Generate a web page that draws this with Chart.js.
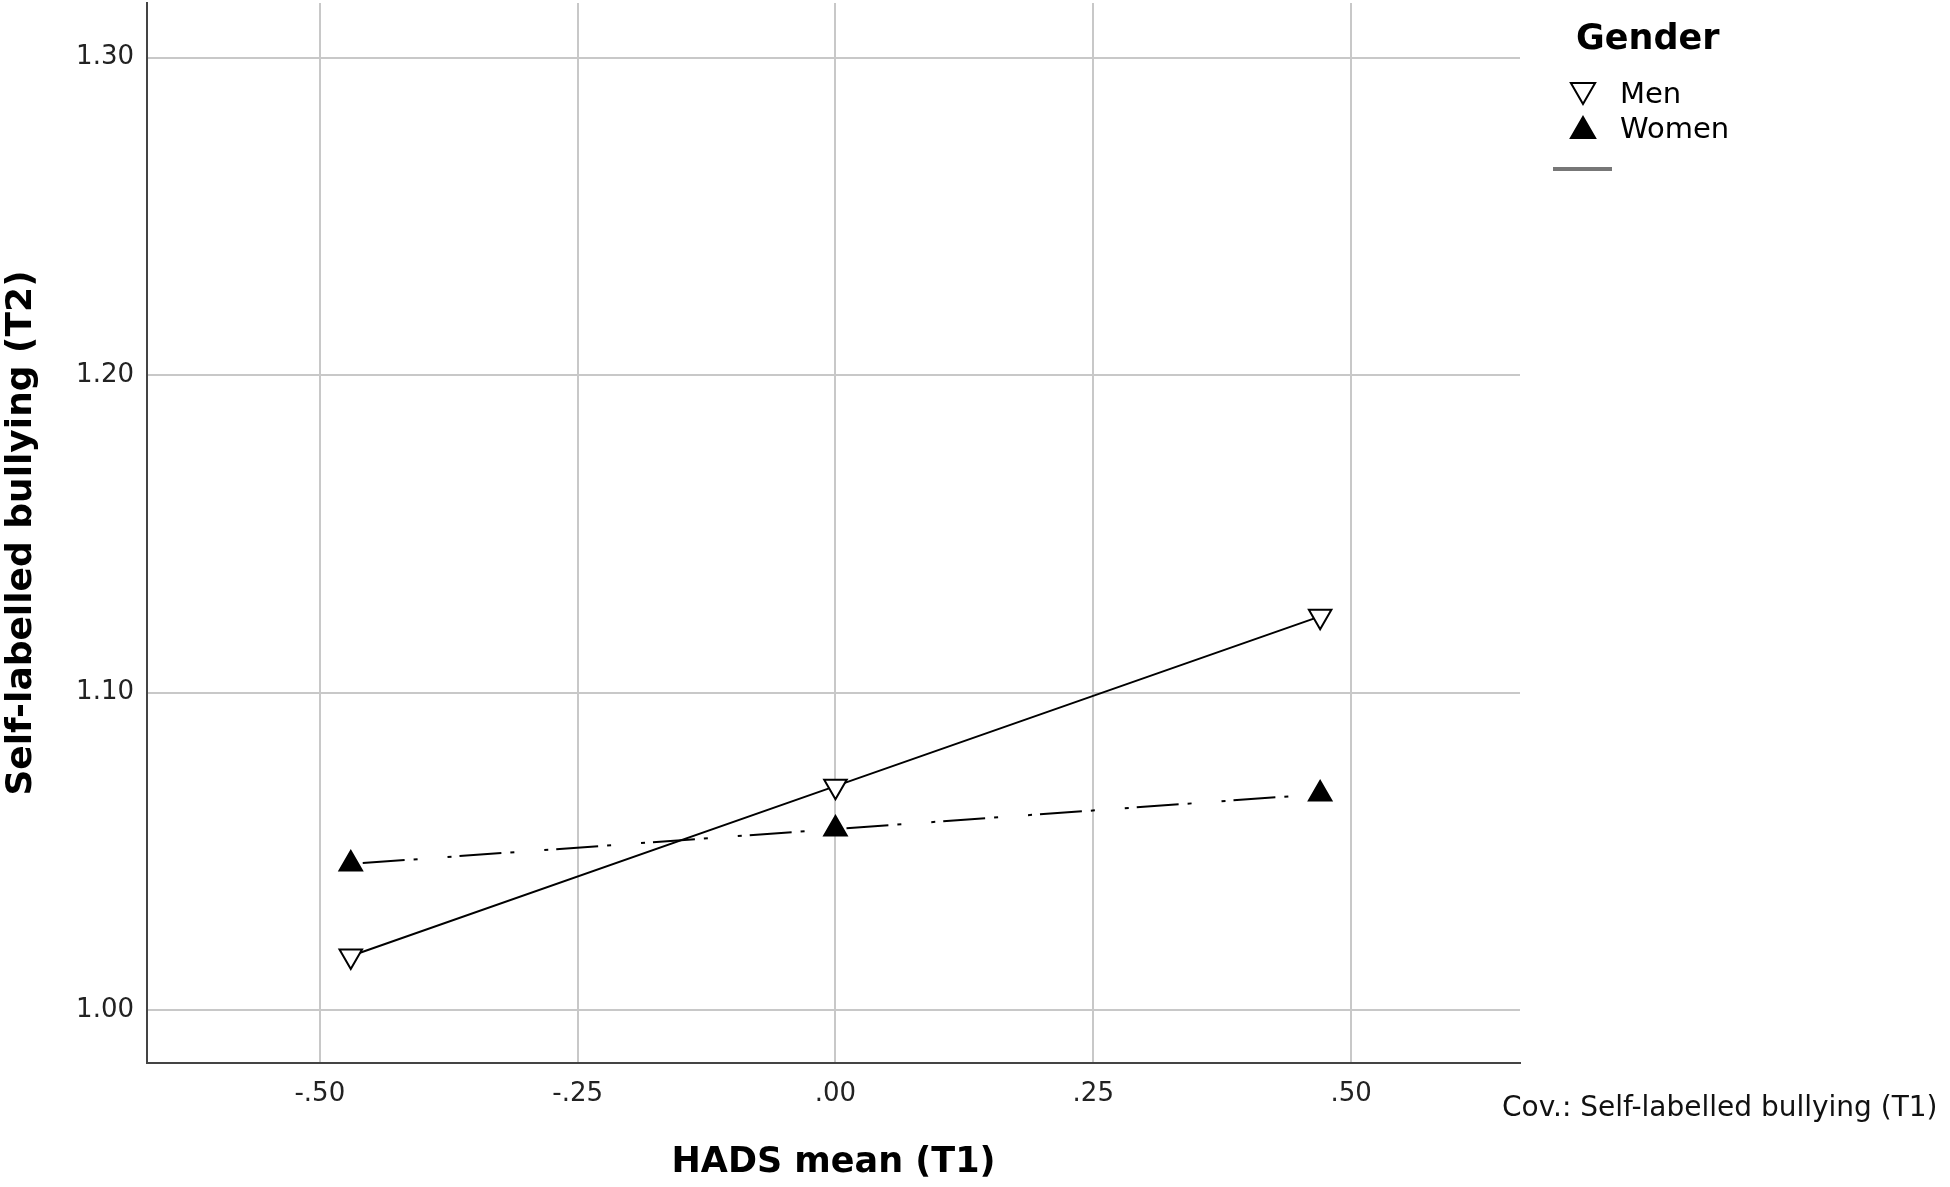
<!DOCTYPE html>
<html>
<head>
<meta charset="utf-8">
<title>Self-labelled bullying (T2) by HADS mean (T1)</title>
<script src="https://cdn.jsdelivr.net/npm/chart.js@4.4.1/dist/chart.umd.min.js"></script>
<style>
  html, body { margin: 0; padding: 0; background: #fff; }
  #chart { display: block; }
</style>
</head>
<body>
<canvas id="chart" width="1950" height="1187"></canvas>
<script>
// values
var hadsX = [-0.47, 0.00, 0.47];
var menValues = [1.017, 1.0705, 1.124];
var womenValues = [1.046, 1.057, 1.068];

var xTickValues = [-0.50, -0.25, 0.00, 0.25, 0.50];
var xTickLabels = ['-.50', '-.25', '.00', '.25', '.50'];
var yTickValues = [1.00, 1.10, 1.20, 1.30];
var yTickLabels = ['1.00', '1.10', '1.20', '1.30'];

var legendTitle = 'Gender';
var seriesNames = ['Men', 'Women'];
var covNote = 'Cov.: Self-labelled bullying (T1)';

var FONT = '"DejaVu Sans", sans-serif';

function toPoints(xs, ys) {
    return xs.map(function (x, i) { return { x: x, y: ys[i] }; });
}

// legend + covariate note, drawn by hand in the right margin
var sideNotes = {
    id: 'sideNotes',
    afterDraw: function (chart) {
        var ctx = chart.ctx;
        ctx.save();
        ctx.textBaseline = 'middle';
        ctx.textAlign = 'left';

        ctx.fillStyle = '#000';
        ctx.font = 'bold 35px ' + FONT;
        ctx.fillText(legendTitle, 1576, 40);

        var markerY = [90, 131];
        var textY = [95, 130];
        chart.data.datasets.forEach(function (ds, i) {
            ctx.fillStyle = ds.pointBackgroundColor;
            ctx.strokeStyle = ds.pointBorderColor;
            ctx.lineWidth = 2;
            ctx.setLineDash([]);
            Chart.helpers.drawPoint(ctx, {
                pointStyle: ds.pointStyle,
                rotation: ds.pointRotation,
                radius: 14,
                borderWidth: 2
            }, 1583, markerY[i]);
            ctx.fillStyle = '#000';
            ctx.font = '29px ' + FONT;
            ctx.fillText(seriesNames[i], 1620, textY[i]);
        });

        ctx.strokeStyle = '#777';
        ctx.lineWidth = 4;
        ctx.beginPath();
        ctx.moveTo(1553, 169);
        ctx.lineTo(1612, 169);
        ctx.stroke();

        ctx.font = '28px ' + FONT;
        ctx.fillStyle = '#111';
        ctx.fillText(covNote, 1502, 1109);
        ctx.restore();
    }
};

new Chart(document.getElementById('chart'), {
    type: 'scatter',
    data: {
        datasets: [{
            label: seriesNames[0],
            data: toPoints(hadsX, menValues),
            showLine: true,
            borderColor: '#000',
            borderWidth: 2,
            pointStyle: 'triangle',
            pointRotation: 180,
            pointRadius: 13,
            pointBorderWidth: 2,
            pointBackgroundColor: '#fff',
            pointBorderColor: '#000'
        }, {
            label: seriesNames[1],
            data: toPoints(hadsX, womenValues),
            showLine: true,
            borderColor: '#000',
            borderWidth: 2,
            borderDash: [4, 8, 42, 9, 4, 30],
            pointStyle: 'triangle',
            pointRotation: 0,
            pointRadius: 13,
            pointBorderWidth: 2,
            pointBackgroundColor: '#000',
            pointBorderColor: '#000'
        }]
    },
    options: {
        responsive: false,
        animation: false,
        devicePixelRatio: 1,
        layout: { autoPadding: false, padding: { top: 3, right: 430, left: 0, bottom: 0 } },
        plugins: {
            legend: { display: false },
            tooltip: { enabled: false }
        },
        scales: {
            x: {
                type: 'linear',
                min: -0.6676,
                max: 0.6638,
                afterBuildTicks: function (scale) {
                    scale.ticks = xTickValues.map(function (v) { return { value: v }; });
                },
                afterFit: function (scale) {
                    scale.height = 124;
                    scale.paddingLeft = 0;
                    scale.paddingRight = 0;
                },
                ticks: {
                    padding: 16,
                    color: '#222',
                    font: { family: FONT, size: 26 },
                    maxRotation: 0,
                    autoSkip: false,
                    callback: function (v, i) { return xTickLabels[i]; }
                },
                grid: { color: '#c8c8c8', lineWidth: 2, drawTicks: false },
                border: { display: true, color: '#444', width: 2 },
                title: {
                    display: true,
                    text: 'HADS mean (T1)',
                    color: '#000',
                    font: { family: FONT, size: 35, weight: 'bold' },
                    padding: { top: 0, bottom: 3 }
                }
            },
            y: {
                type: 'linear',
                min: 0.9833,
                max: 1.3172,
                afterBuildTicks: function (scale) {
                    scale.ticks = yTickValues.map(function (v) { return { value: v }; });
                },
                afterFit: function (scale) {
                    scale.width = 147;
                    scale.paddingTop = 0;
                    scale.paddingBottom = 0;
                },
                ticks: {
                    padding: 13,
                    color: '#222',
                    font: { family: FONT, size: 26 },
                    autoSkip: false,
                    callback: function (v, i) { return yTickLabels[i]; }
                },
                grid: { color: '#c8c8c8', lineWidth: 2, drawTicks: false },
                border: { display: true, color: '#444', width: 2 },
                title: {
                    display: true,
                    text: 'Self-labelled bullying (T2)',
                    color: '#000',
                    font: { family: FONT, size: 36, weight: 'bold' },
                    padding: { top: 0, bottom: 0 }
                }
            }
        }
    },
    plugins: [sideNotes]
});
</script>
</body>
</html>
